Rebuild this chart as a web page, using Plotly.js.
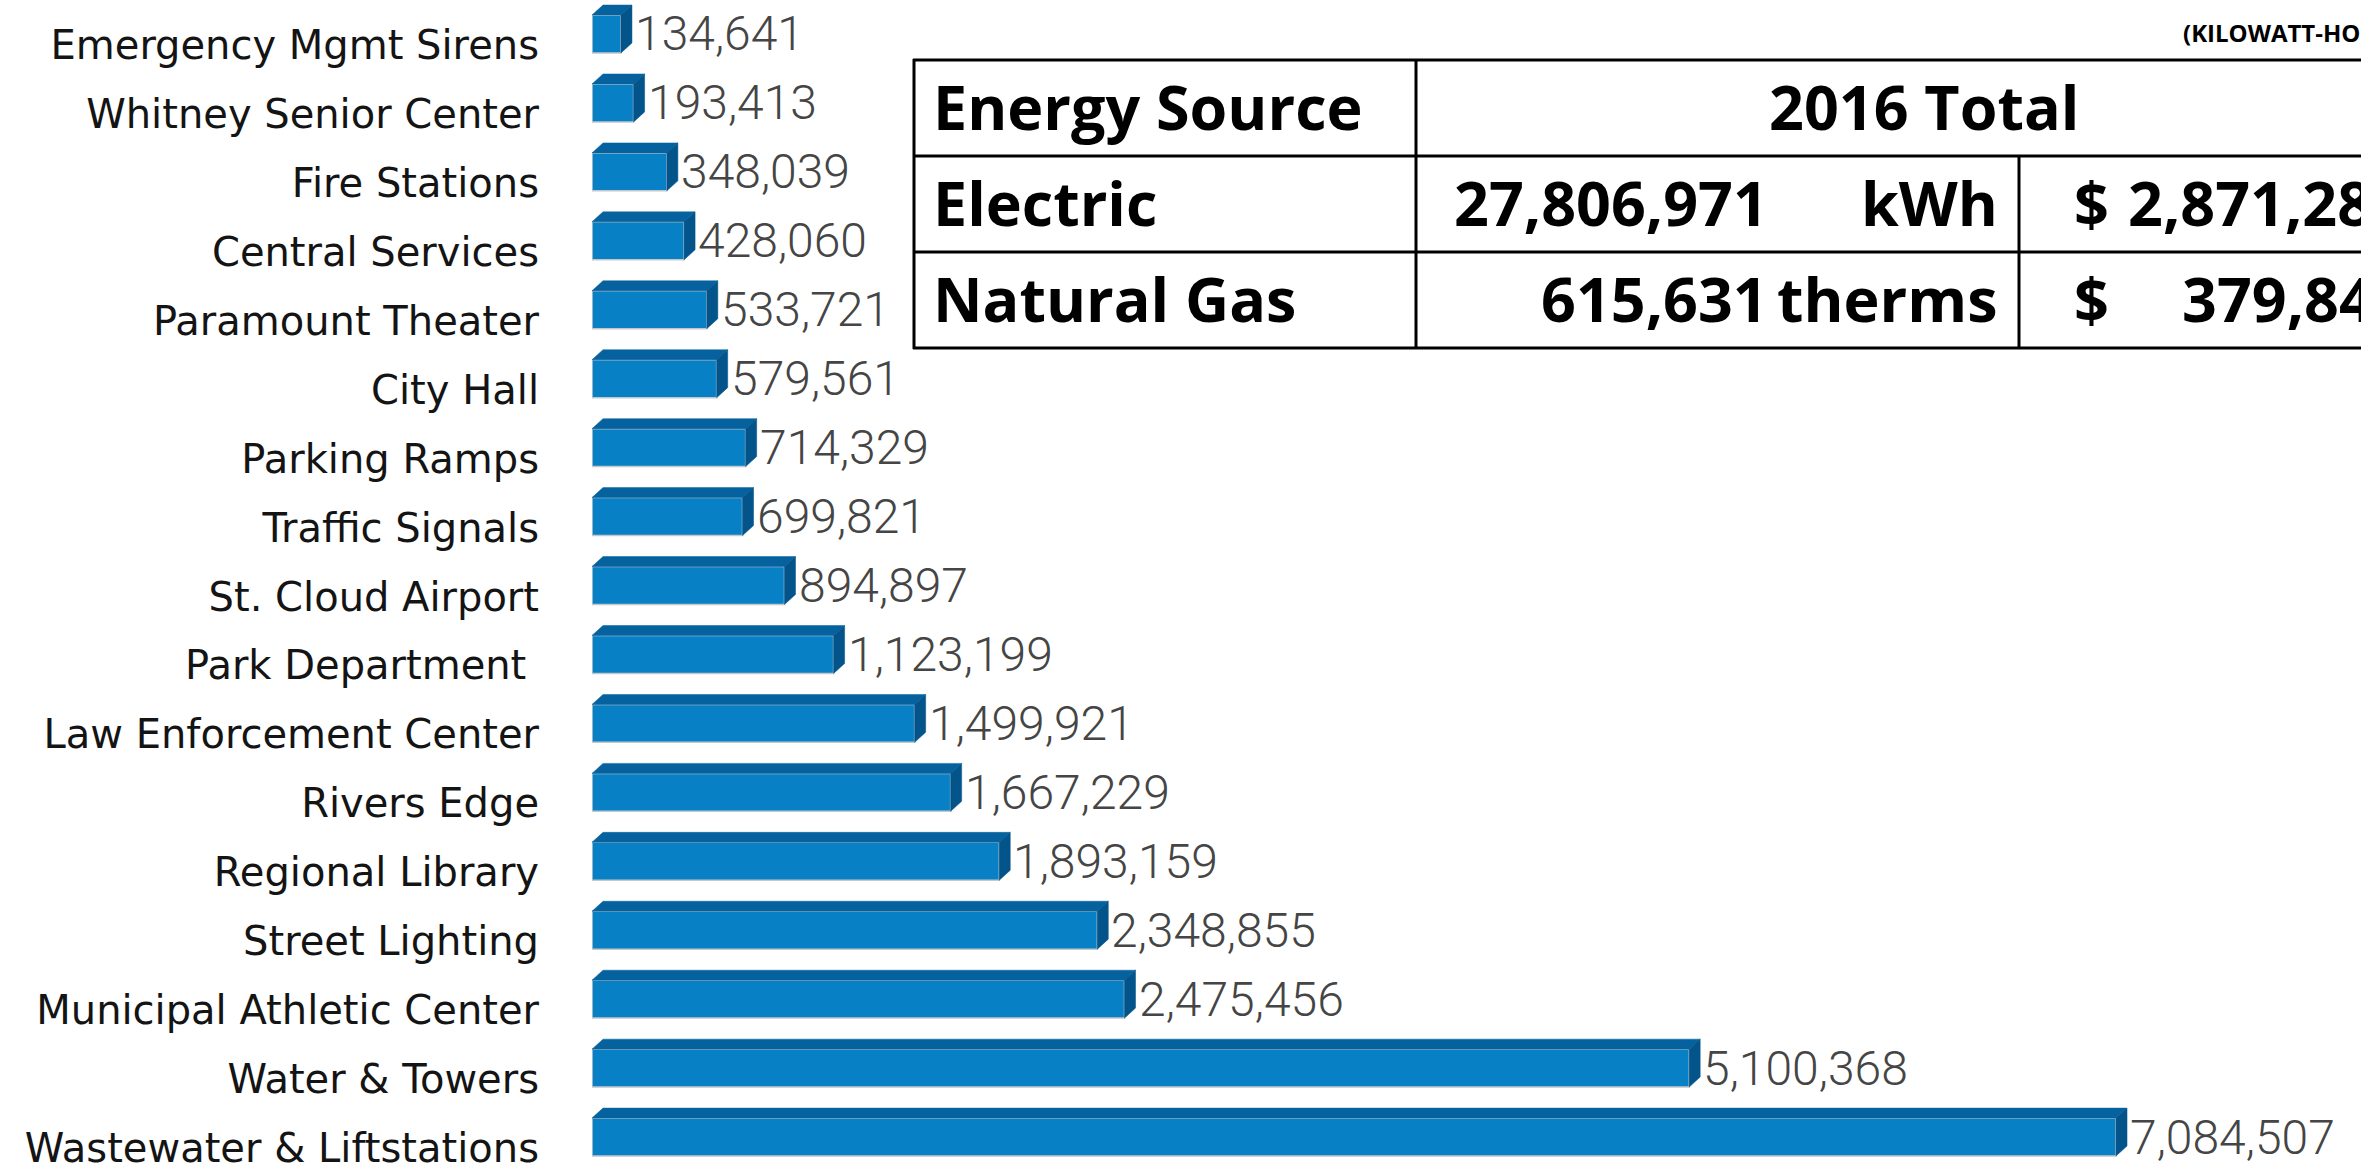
<!DOCTYPE html>
<html><head><meta charset="utf-8">
<script src="https://cdn.plot.ly/plotly-3.0.1.min.js"></script>
<style>html,body{margin:0;padding:0;background:#fff;overflow:hidden}</style>
</head><body><div id="chart" style="width:2361px;height:1166px"></div>
<script>
// ---- data ----
const categories = [
  "Emergency Mgmt Sirens", "Whitney Senior Center", "Fire Stations", "Central Services",
  "Paramount Theater", "City Hall", "Parking Ramps", "Traffic Signals", "St. Cloud Airport",
  "Park Department\u00a0", "Law Enforcement Center", "Rivers Edge", "Regional Library",
  "Street Lighting", "Municipal Athletic Center", "Water & Towers", "Wastewater & Liftstations"
];
const kwh = [134641, 193413, 348039, 428060, 533721, 579561, 714329, 699821, 894897,
  1123199, 1499921, 1667229, 1893159, 2348855, 2475456, 5100368, 7084507];

const tableHeader = ["Energy Source", "2016 Total"];
const tableSources = ["Electric", "Natural Gas"];
const tableAmounts = ["27,806,971", "615,631"];
const tableUnits = ["kWh", "therms"];
const tableCosts = ["2,871,28", "379,84"];
const unitsNote = "(KILOWATT-HOURS)";

// ---- geometry / style ----
const W = 2361, H = 1166, L = 592;
const XMAX = 8223300;
const YR = [16.420, -0.493];
const BARW = 0.55;
const depthX = 11 * XMAX / (W - L);
const depthY = 10 * (YR[0] - YR[1]) / H;

const idx = categories.map((_, i) => i);

// 3D faces built from the data
const topX = [], topY = [], sideX = [], sideY = [];
kwh.forEach((v, i) => {
  const yt = i - BARW / 2, yb = i + BARW / 2;
  topX.push(0, v, v + depthX, depthX, 0, null);
  topY.push(yt, yt, yt - depthY, yt - depthY, yt, null);
  sideX.push(v, v, v + depthX, v + depthX, v, null);
  sideY.push(yb, yt, yt - depthY, yb - depthY, yb, null);
});

const traces = [
  { type: 'bar', orientation: 'h', y: idx, x: kwh, width: BARW,
    marker: { color: '#0780C6', line: { color: '#c4c8cc', width: 1.5 } }, hoverinfo: 'skip' },
  { type: 'scatter', mode: 'lines', x: topX, y: topY, fill: 'toself',
    fillcolor: '#05629E', line: { color: '#05629E', width: 0.5 }, hoverinfo: 'skip' },
  { type: 'scatter', mode: 'lines', x: sideX, y: sideY, fill: 'toself',
    fillcolor: '#03548A', line: { color: '#03548A', width: 0.5 }, hoverinfo: 'skip' }
];

const annotations = kwh.map((v, i) => ({
  x: v, y: i, xref: 'x', yref: 'y', xanchor: 'left', yanchor: 'middle',
  xshift: 12, showarrow: false, text: v.toLocaleString('en-US'),
  font: { family: 'Roboto', size: 48, color: '#454545', weight: 300 }
}));

// table helpers (pixel -> paper)
const px = p => (p - L) / (W - L);
const py = p => 1 - p / H;
const tf = { family: 'Open Sans', size: 61, color: '#000', weight: 'bold' };
function txt(x, y, t, anchor, font) {
  annotations.push({ xref: 'paper', yref: 'paper', x: px(x), y: py(y), text: t,
    xanchor: anchor, yanchor: 'middle', showarrow: false, font: font || tf });
}
txt(931, 107, tableHeader[0], 'left');
txt(1924, 107, tableHeader[1], 'center');
const rowY = [203, 299];
tableSources.forEach((s, r) => {
  txt(931, rowY[r], s, 'left');
  txt(1770, rowY[r], tableAmounts[r], 'right');
  txt(2000, rowY[r], tableUnits[r], 'right');
  txt(2072, rowY[r], '$', 'left');
});
txt(2126, rowY[0], tableCosts[0], 'left');
txt(2180, rowY[1], tableCosts[1], 'left');
txt(2181, 32, unitsNote, 'left', { family: 'Open Sans', size: 24, color: '#000', weight: 'bold' });

const lineStyle = { color: '#000', width: 3 };
const hl = (y, x0, x1) => ({ type: 'line', xref: 'paper', yref: 'paper', x0: px(x0), x1: px(x1), y0: py(y), y1: py(y), line: lineStyle });
const vl = (x, y0, y1) => ({ type: 'line', xref: 'paper', yref: 'paper', x0: px(x), x1: px(x), y0: py(y0), y1: py(y1), line: lineStyle });
const shapes = [
  hl(60, 913, 2400), hl(156, 913, 2400), hl(252, 913, 2400), hl(348, 913, 2400),
  vl(914, 59, 349), vl(1416, 59, 349), vl(2019, 156, 349)
];

const layout = {
  width: W, height: H,
  margin: { l: L, r: 0, t: 0, b: 0, pad: 0 },
  paper_bgcolor: '#fff', plot_bgcolor: '#fff',
  showlegend: false, hovermode: false,
  xaxis: { range: [0, XMAX], visible: false, fixedrange: true },
  yaxis: { range: YR, tickmode: 'array', tickvals: idx, ticktext: categories,
    showgrid: false, zeroline: false, showline: false, ticks: '',
    ticklabelstandoff: 52, ticklabelshift: -11, ticklabeloverflow: 'allow',
    tickfont: { family: 'DejaVu Sans', size: 40, color: '#141414' }, fixedrange: true },
  annotations, shapes
};

Plotly.newPlot('chart', traces, layout, { staticPlot: true, displayModeBar: false });
</script>
</body></html>
